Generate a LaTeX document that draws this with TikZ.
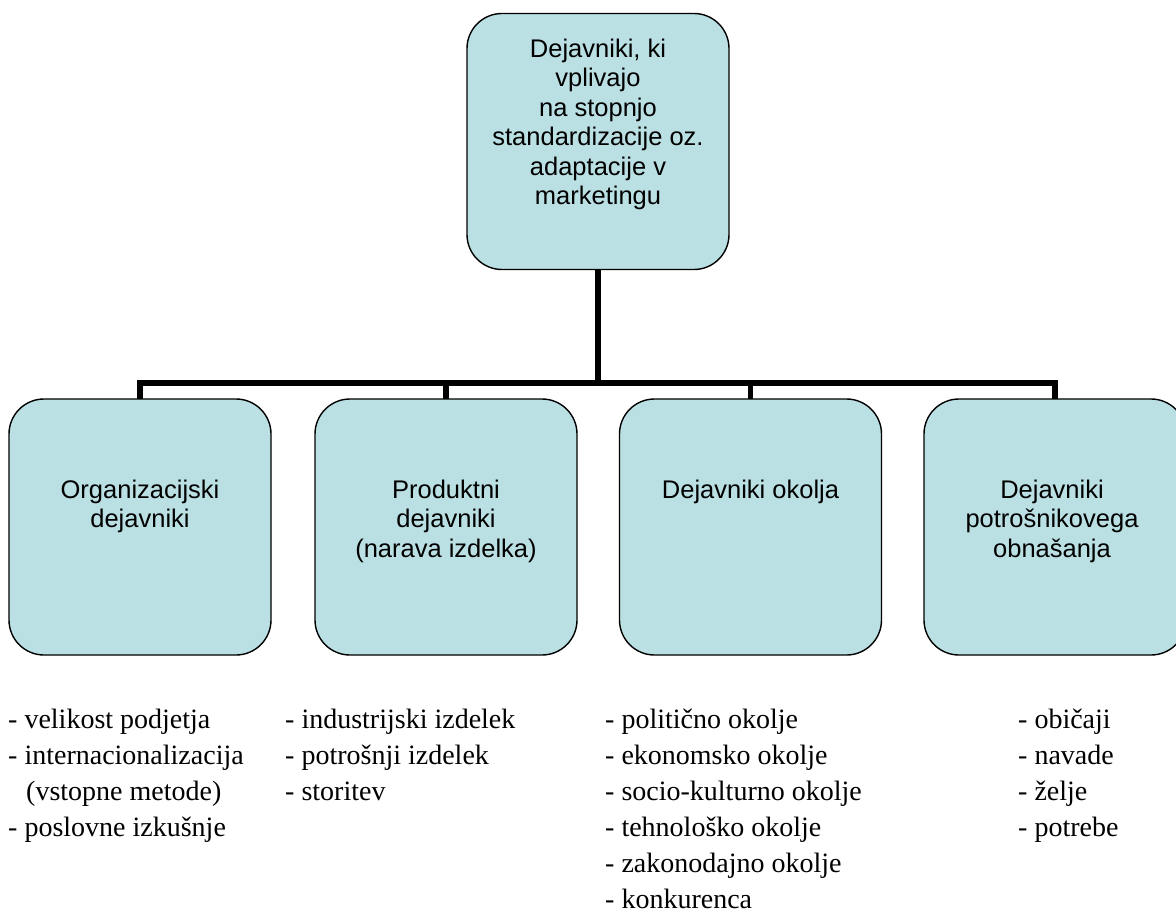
\documentclass[tikz,border=0pt]{standalone}
\usepackage{fontspec}
\setmainfont{Liberation Serif}
\newfontfamily\arialf{Liberation Sans}
\definecolor{boxfill}{RGB}{186,224,227}
\begin{document}
\begin{tikzpicture}[x=1pt,y=-1pt,
  box/.style={draw=black, line width=1.4pt, fill=boxfill, rounded corners=35pt,
    minimum width=262pt, minimum height=256pt, inner sep=0pt, outer sep=0pt},
  boxtext/.style={font=\arialf\fontsize{25.5}{29.5}\selectfont, align=center, anchor=north, inner sep=0pt},
  listtext/.style={font=\fontsize{28}{36}\selectfont, align=left, anchor=north west, inner sep=0pt},
  conn/.style={draw=black, line width=5.5pt}]
\clip (0,0) rectangle (1176,920);
\fill[white] (0,0) rectangle (1176,920);

\node[box] (top) at (598,141.5) {};
\node[box] (b1) at (140,527) {};
\node[box] (b2) at (446,527) {};
\node[box] (b3) at (750.5,527) {};
\node[box] (b4) at (1055,527) {};

\coordinate (bus) at (598,383);
\draw[conn] (top.south) -- (top.south |- bus);
\draw[conn] (b1.north) -- (b1.north |- bus) -| (b4.north);
\draw[conn] (b2.north) -- (b2.north |- bus);
\draw[conn] (b3.north) -- (b3.north |- bus);

\node[boxtext] (t0) at (598,38.5) {Dejavniki, ki\\vplivajo\\na stopnjo\\standardizacije oz.\\adaptacije v\\marketingu};
\node[boxtext] (t1) at (140,479.5) {Organizacijski\\dejavniki};
\node[boxtext] (t2) at (446,479.5) {Produktni\\dejavniki\\(narava izdelka)};
\node[boxtext] (t3) at (750.5,479.5) {Dejavniki okolja};
\node[boxtext] (t4) at (1052,479.5) {Dejavniki\\potrošnikovega\\obnašanja};

\node[listtext] (l1) at (8,709) {- velikost podjetja\\- internacionalizacija\\\hspace*{18pt}(vstopne metode)\\- poslovne izkušnje};
\node[listtext] (l2) at (285,709) {- industrijski izdelek\\- potrošnji izdelek\\- storitev};
\node[listtext] (l3) at (605,709) {- politično okolje\\- ekonomsko okolje\\- socio-kulturno okolje\\- tehnološko okolje\\- zakonodajno okolje\\- konkurenca};
\node[listtext] (l4) at (1018,709) {- običaji\\- navade\\- želje\\- potrebe};
\end{tikzpicture}
\end{document}
